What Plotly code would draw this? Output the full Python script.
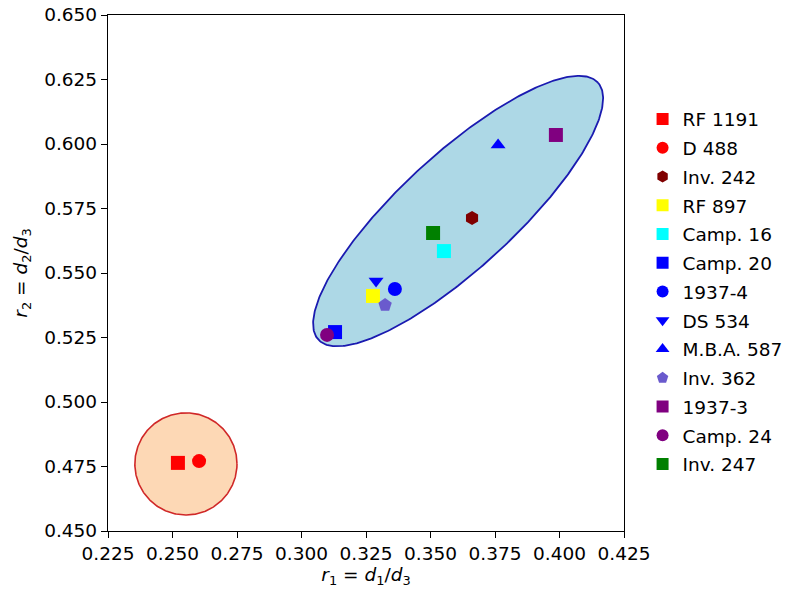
import numpy as np
import plotly.graph_objects as go

# ---- data ----
names = ["RF 1191", "D 488", "Inv. 242", "RF 897", "Camp. 16", "Camp. 20", "1937-4",
         "DS 534", "M.B.A. 587", "Inv. 362", "1937-3", "Camp. 24", "Inv. 247"]
r1_values = [0.2521, 0.2603, 0.3661, 0.3277, 0.3552, 0.3130, 0.3362,
             0.3289, 0.3762, 0.3324, 0.3986, 0.3099, 0.3510]
r2_values = [0.4764, 0.4771, 0.5713, 0.5411, 0.5585, 0.5271, 0.5438,
             0.5469, 0.5996, 0.5376, 0.6035, 0.5260, 0.5655]
marker_symbols = ["square", "circle", "hexagon", "square", "square", "square", "circle",
                  "triangle-down", "triangle-up", "pentagon", "square", "circle", "square"]
marker_colors = ["#ff0000", "#ff0000", "#800000", "#ffff00", "#00ffff", "#0000ff", "#0000ff",
                 "#0000ff", "#0000ff", "#6a5acd", "#800080", "#800080", "#008000"]

# group regions: centre, semi-axes, rotation (degrees)
ellipse_center = (0.3607, 0.5740)
ellipse_axes = (0.0736, 0.0221)
ellipse_angle = 42.6
circle_center = (0.2552, 0.4760)
circle_radius = 0.0198

x_ticks = [0.225, 0.250, 0.275, 0.300, 0.325, 0.350, 0.375, 0.400, 0.425]
y_ticks = [0.450, 0.475, 0.500, 0.525, 0.550, 0.575, 0.600, 0.625, 0.650]

FONT = "DejaVu Sans"
FS = 18.5

fig = go.Figure()

t = np.linspace(0, 2 * np.pi, 400)
# circle region
cx = circle_center[0] + circle_radius * np.cos(t)
cy = circle_center[1] + circle_radius * np.sin(t)
fig.add_trace(go.Scatter(x=cx, y=cy, mode="lines", fill="toself",
                         fillcolor="#fdd8b5", line=dict(color="#d02828", width=1.6),
                         showlegend=False, hoverinfo="skip"))
# ellipse region
th = np.deg2rad(ellipse_angle)
ex0 = ellipse_axes[0] * np.cos(t)
ey0 = ellipse_axes[1] * np.sin(t)
ex = ellipse_center[0] + ex0 * np.cos(th) - ey0 * np.sin(th)
ey = ellipse_center[1] + ex0 * np.sin(th) + ey0 * np.cos(th)
fig.add_trace(go.Scatter(x=ex, y=ey, mode="lines", fill="toself",
                         fillcolor="#add8e6", line=dict(color="#1a1ab0", width=1.8),
                         showlegend=False, hoverinfo="skip"))

sizes = {"square": 14, "circle": 14, "hexagon": 14, "triangle-down": 13,
         "triangle-up": 13, "pentagon": 14}
for i, n in enumerate(names):
    fig.add_trace(go.Scatter(
        x=[r1_values[i]], y=[r2_values[i]], mode="markers", name=n,
        legendgroup=n,
        marker=dict(symbol=marker_symbols[i], color=marker_colors[i],
                    size=sizes[marker_symbols[i]], line=dict(width=0))))

axis_common = dict(showgrid=False, zeroline=False, showline=True, linecolor="black",
                   linewidth=1.3, mirror=True, ticks="outside", ticklen=6, tickwidth=1.3,
                   tickcolor="black", tickformat=".3f",
                   tickfont=dict(family=FONT, size=FS, color="black"))

fig.update_layout(
    width=792, height=592,
    margin=dict(l=108, r=168, t=15, b=61, autoexpand=False),
    paper_bgcolor="white", plot_bgcolor="white",
    font=dict(family=FONT, size=FS, color="black"),
    xaxis=dict(range=[0.225, 0.425], tickvals=x_ticks, **axis_common,
               title=dict(text="<i>r</i><sub>1</sub> = <i>d</i><sub>1</sub>/<i>d</i><sub>3</sub>",
                          font=dict(family=FONT, size=FS), standoff=4)),
    yaxis=dict(range=[0.450, 0.650], tickvals=y_ticks, **axis_common,
               title=dict(text="<i>r</i><sub>2</sub> = <i>d</i><sub>2</sub>/<i>d</i><sub>3</sub>",
                          font=dict(family=FONT, size=FS), standoff=11)),
    legend=dict(x=1.036, xanchor="left", y=0.463, yanchor="middle",
                font=dict(family=FONT, size=FS), bgcolor="rgba(0,0,0,0)",
                tracegroupgap=1.7, traceorder="grouped", itemsizing="constant"),
    showlegend=True,
)

fig.write_html("out.html",
               config={"displayModeBar": False},
               post_script="document.body.style.margin='0';document.body.style.padding='0';")
